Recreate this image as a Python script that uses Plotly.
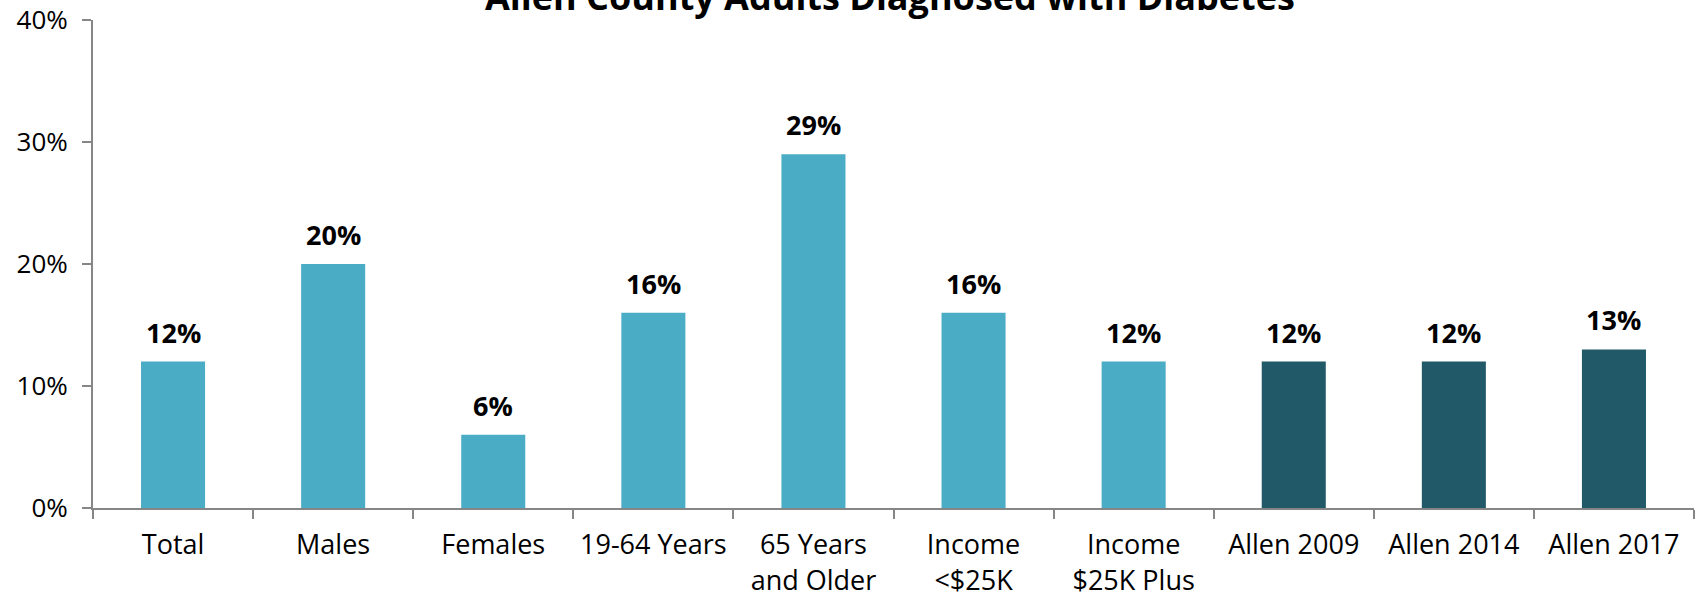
import plotly.graph_objects as go

categories = ["Total", "Males", "Females", "19-64 Years", "65 Years<br>and Older",
              "Income<br><$25K", "Income<br>$25K Plus", "Allen 2009", "Allen 2014", "Allen 2017"]
values = [0.12, 0.20, 0.06, 0.16, 0.29, 0.16, 0.12, 0.12, 0.12, 0.13]
bar_colors = ["#4BACC6"] * 7 + ["#215968"] * 3
y_ticks = [0, 0.1, 0.2, 0.3, 0.4]
title_text = "Allen County Adults Diagnosed with Diabetes"

FONT = "Open Sans"

fig = go.Figure(go.Bar(
    x=categories, y=values,
    marker=dict(color=bar_colors, line=dict(width=0)),
    hoverinfo="x+y",
))

annotations = [dict(
    text=f"<b>{title_text}</b>", xref="paper", yref="paper",
    x=0.5, y=1, xanchor="center", yanchor="bottom", yshift=-3, xshift=-4,
    showarrow=False, font=dict(family=FONT, size=36, color="#000000"),
)]
for c, v in zip(categories, values):
    annotations.append(dict(
        text=f"<b>{v:.0%}</b>", x=c, y=v, xref="x", yref="y",
        xanchor="center", yanchor="bottom", yshift=9, showarrow=False,
        font=dict(family=FONT, size=27, color="#000000"),
    ))

fig.update_layout(
    width=1702, height=596,
    margin=dict(l=93, r=8, t=20, b=88, autoexpand=False),
    paper_bgcolor="white", plot_bgcolor="white",
    bargap=0.6,
    showlegend=False,
    font=dict(family=FONT, size=27, color="#000000"),
    annotations=annotations,
)
fig.update_xaxes(
    showline=True, linecolor="#868686", linewidth=2,
    ticks="outside", tickson="boundaries", ticklen=9, tickcolor="#868686", tickwidth=2,
    showgrid=False, automargin=False, tickangle=0, ticklabeloverflow="allow",
    ticklabelstandoff=12,
    tickfont=dict(family=FONT, size=27, color="#000000"),
)
fig.update_yaxes(
    range=[0, 0.4], tickvals=y_ticks, tickformat=".0%",
    showline=True, linecolor="#868686", linewidth=2,
    ticks="outside", ticklen=9, tickcolor="#868686", tickwidth=2,
    showgrid=False, zeroline=False, automargin=False, ticklabeloverflow="allow",
    ticklabelstandoff=9,
    tickfont=dict(family=FONT, size=26, color="#000000"),
)

fig.write_html("out.html", config={"displayModeBar": False},
               post_script="document.body.style.margin='0';")
